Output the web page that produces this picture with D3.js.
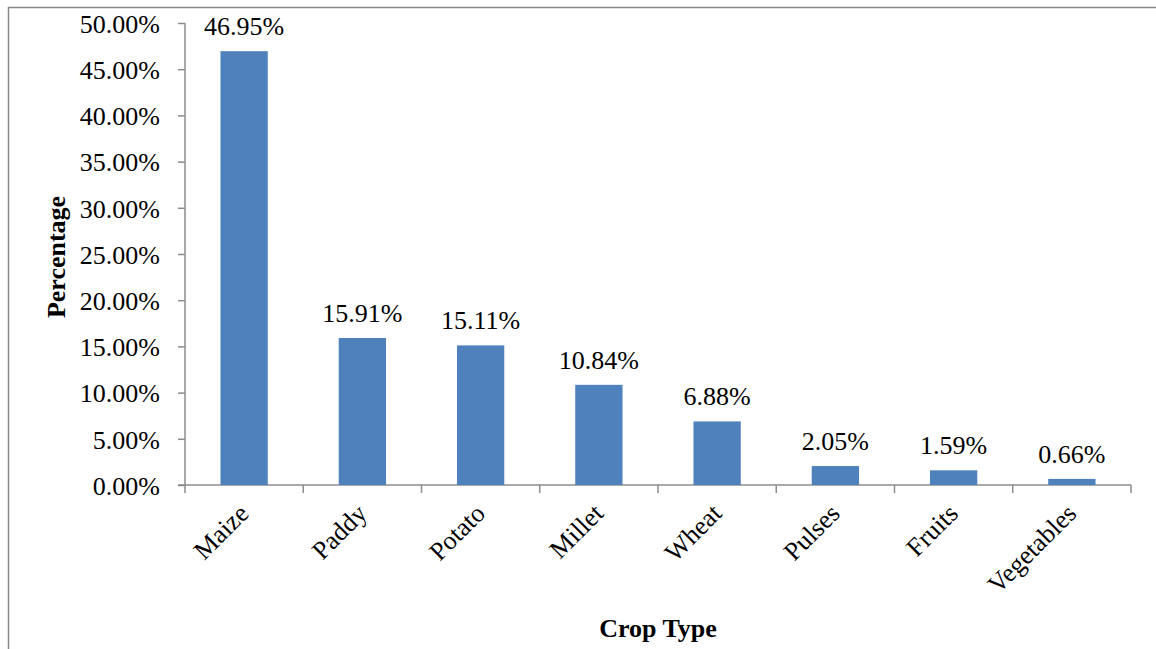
<!DOCTYPE html>
<html>
<head>
<meta charset="utf-8">
<script src="https://cdn.jsdelivr.net/npm/d3@7"></script>
<style>
  html, body { margin: 0; padding: 0; background: #fff; }
  svg { display: block; }
  text { font-family: "Liberation Serif", "Times New Roman", serif; fill: #000; }
</style>
</head>
<body>
<svg id="chart" width="1156" height="649"></svg>
<script>
// Share of cultivated crops by type (percent)
const categories = ["Maize", "Paddy", "Potato", "Millet", "Wheat", "Pulses", "Fruits", "Vegetables"];
const values = [46.95, 15.91, 15.11, 10.84, 6.88, 2.05, 1.59, 0.66];
const yTicks = [0, 5, 10, 15, 20, 25, 30, 35, 40, 45, 50];

const svg = d3.select("#chart");
const W = 1156, H = 649;
const m = { left: 185, right: 25, top: 23, bottom: 164 };
const serif = "'Liberation Serif', 'Times New Roman', serif";
const fontSize = "26px";

// Outer frame
svg.append("path")
  .attr("d", `M8.5,${H} V7.5 H${W}`)
  .attr("fill", "none")
  .attr("stroke", "#888")
  .attr("stroke-width", 1.5);

const x = d3.scaleBand()
  .domain(categories)
  .range([m.left, W - m.right])
  .paddingInner(0.6)
  .paddingOuter(0.3);

const y = d3.scaleLinear()
  .domain([0, 50])
  .range([H - m.bottom, m.top]);

const axisColor = "#8c8c8c";

// Y axis
const yAxis = svg.append("g")
  .attr("transform", `translate(${m.left},0)`)
  .call(d3.axisLeft(y).tickValues(yTicks).tickSize(7).tickPadding(18)
    .tickFormat(d => d.toFixed(2) + "%"));
yAxis.attr("font-family", null).attr("font-size", null);
yAxis.select(".domain").attr("stroke", axisColor).attr("stroke-width", 1.5)
  .attr("d", `M0,${y(0)}V${y(50)}`);
yAxis.selectAll(".tick line").attr("stroke", axisColor).attr("stroke-width", 1.5);
yAxis.selectAll(".tick text")
  .style("font-family", serif)
  .style("font-size", fontSize)
  .attr("fill", "#000")
  .attr("dy", "0.36em");

// X axis baseline and category separators
const xAxis = svg.append("g").attr("transform", `translate(0,${y(0)})`);
xAxis.append("line")
  .attr("x1", m.left - 7).attr("x2", W - m.right)
  .attr("stroke", axisColor).attr("stroke-width", 1.5);
const sepX = d3.range(categories.length + 1).map(i => m.left + i * (W - m.right - m.left) / categories.length);
xAxis.selectAll("line.sep").data(sepX).join("line")
  .attr("class", "sep")
  .attr("x1", d => d).attr("x2", d => d)
  .attr("y1", 0).attr("y2", 8)
  .attr("stroke", axisColor).attr("stroke-width", 1.5);

// Bars
svg.append("g").selectAll("rect").data(values).join("rect")
  .attr("x", (d, i) => x(categories[i]))
  .attr("y", d => y(d))
  .attr("width", x.bandwidth())
  .attr("height", d => y(0) - y(d))
  .attr("fill", "#4f81bd");

// Value labels
svg.append("g").selectAll("text").data(values).join("text")
  .attr("x", (d, i) => x(categories[i]) + x.bandwidth() / 2)
  .attr("y", d => y(d) - 16)
  .attr("text-anchor", "middle")
  .style("font-family", serif)
  .style("font-size", fontSize)
  .text(d => d.toFixed(2) + "%");

// Category labels, rotated
svg.append("g").selectAll("text").data(categories).join("text")
  .attr("text-anchor", "end")
  .attr("transform", d => `translate(${x(d) + x.bandwidth() / 2 + 6},${y(0) + 30}) rotate(-45)`)
  .style("font-family", serif)
  .style("font-size", fontSize)
  .text(d => d);

// Axis titles
svg.append("text")
  .attr("transform", `translate(65,${(y(0) + y(50)) / 2 + 3}) rotate(-90)`)
  .attr("text-anchor", "middle")
  .style("font-family", serif)
  .style("font-size", fontSize)
  .style("font-weight", "bold")
  .text("Percentage");

svg.append("text")
  .attr("x", 658)
  .attr("y", 637)
  .attr("text-anchor", "middle")
  .style("font-family", serif)
  .style("font-size", fontSize)
  .style("font-weight", "bold")
  .text("Crop Type");
</script>
</body>
</html>
